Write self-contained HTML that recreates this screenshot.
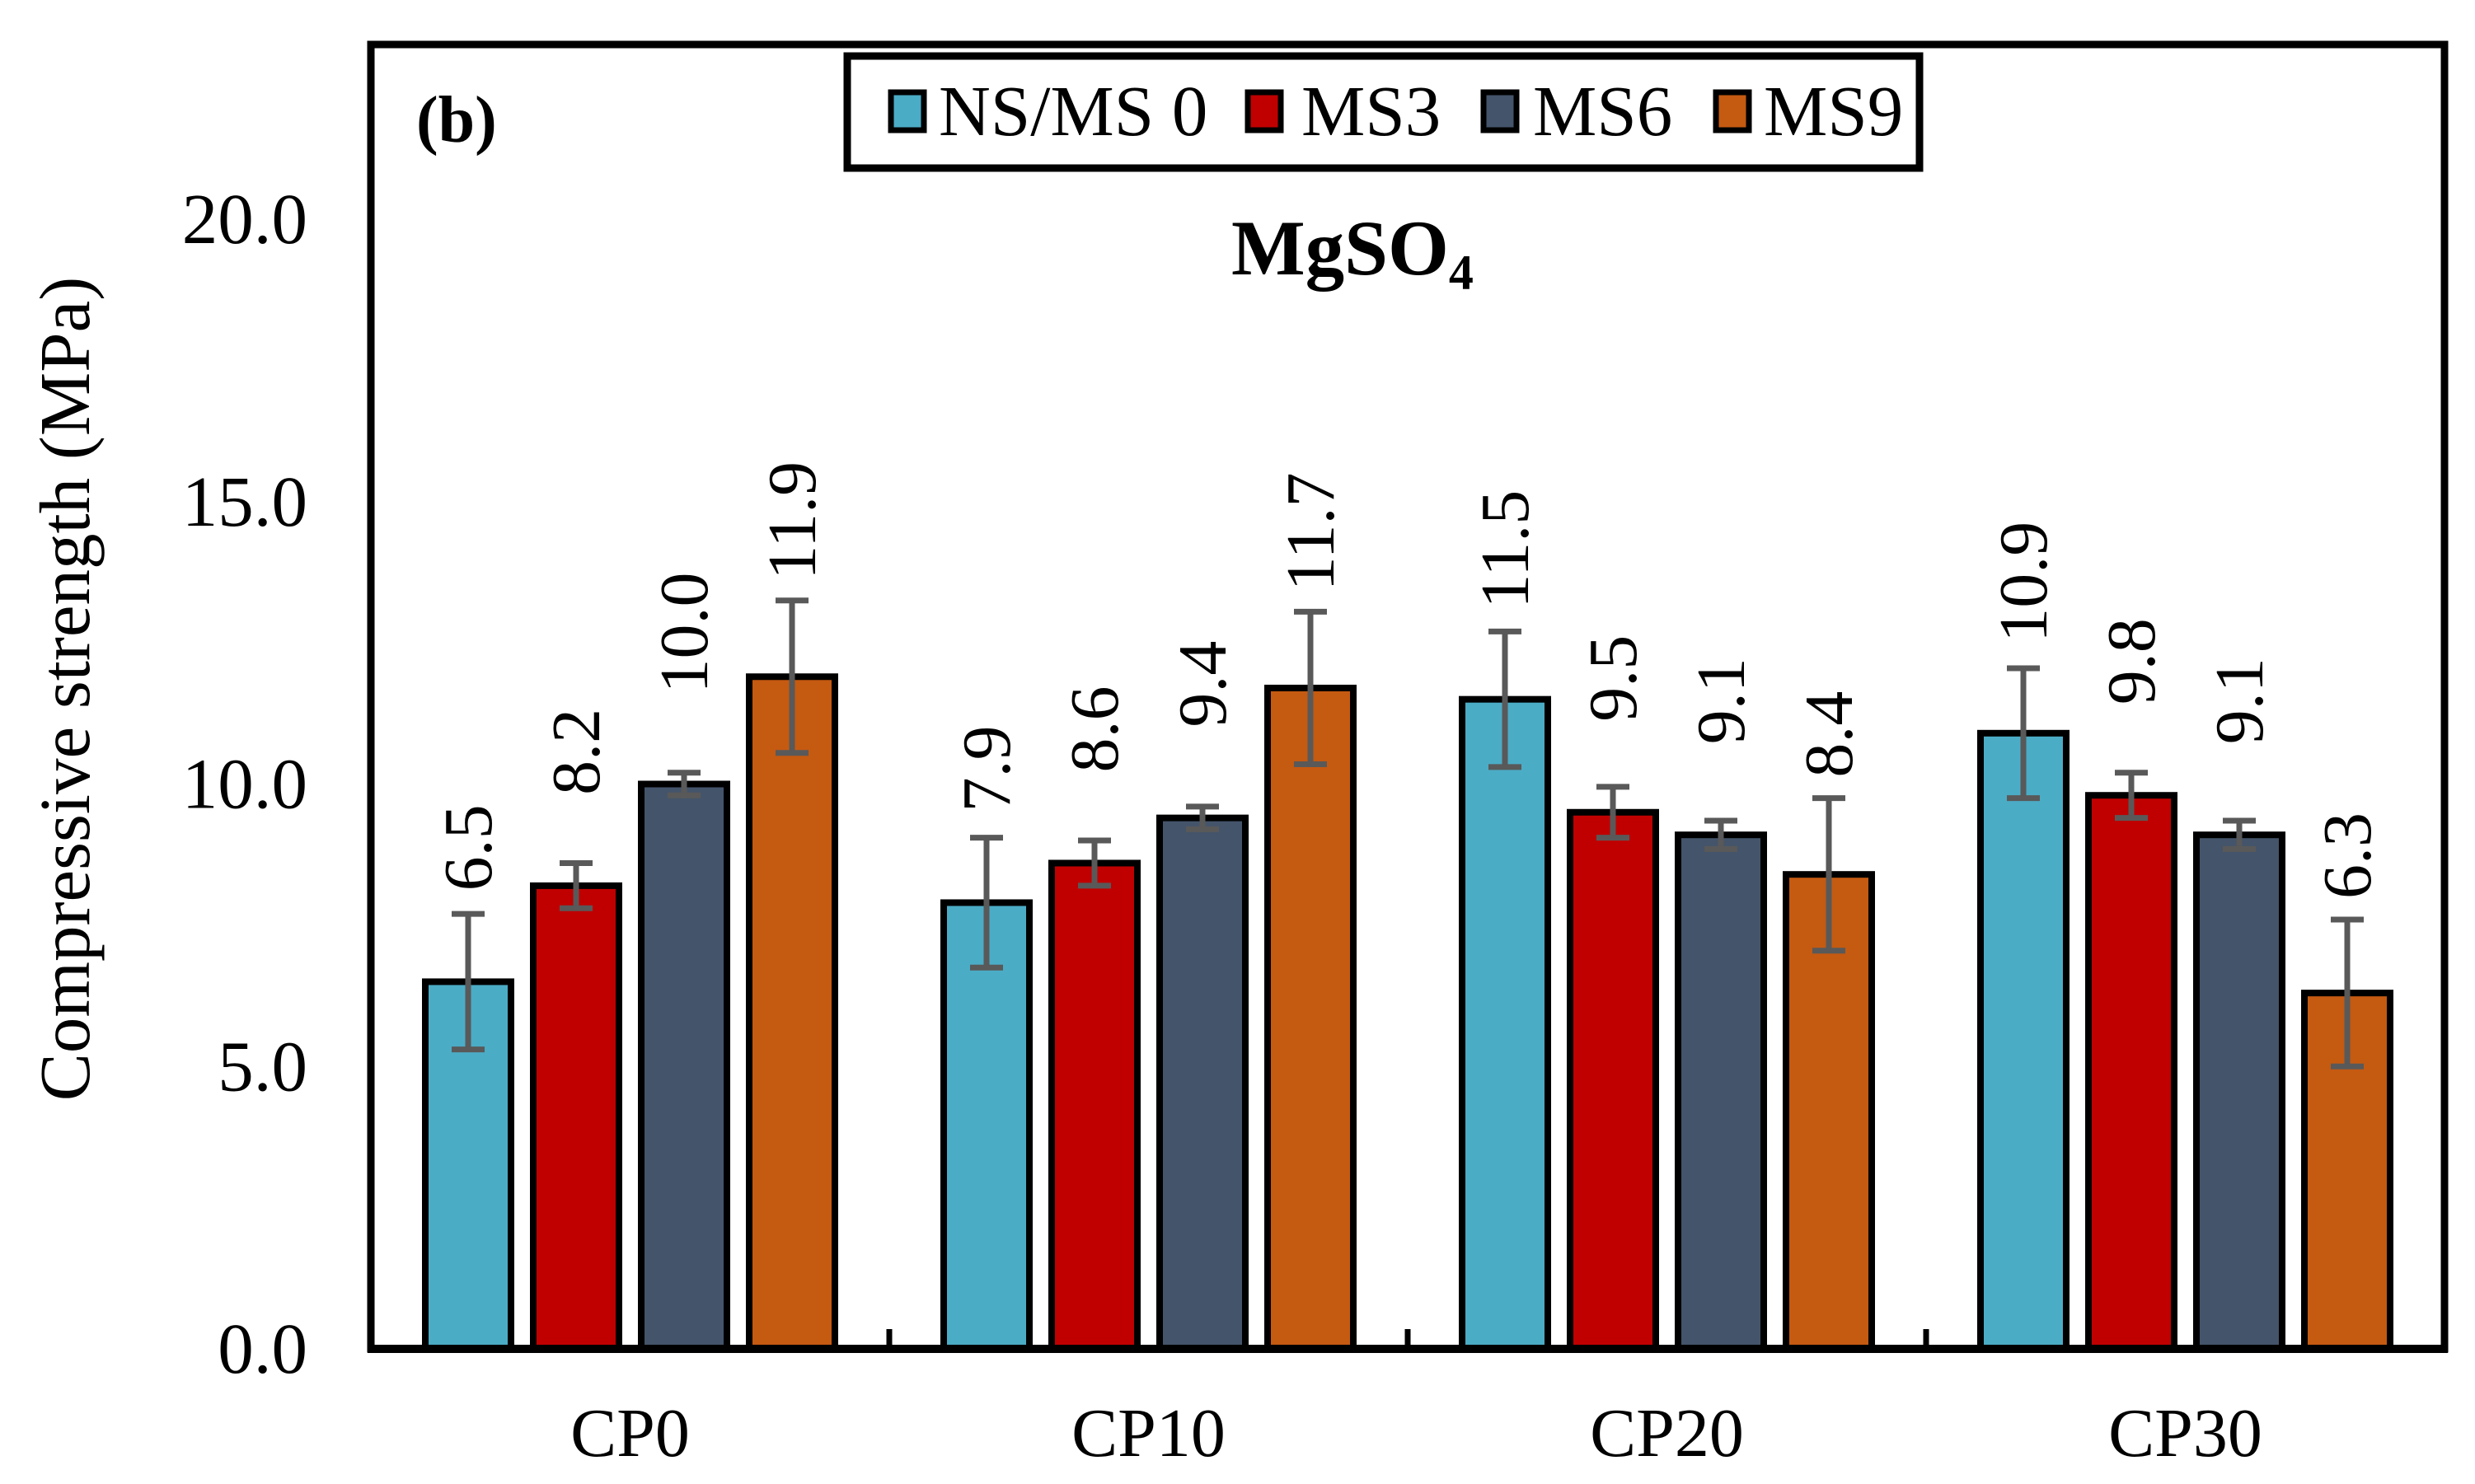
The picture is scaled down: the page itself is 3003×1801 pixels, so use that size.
<!DOCTYPE html>
<html><head><meta charset="utf-8"><style>
html,body{margin:0;padding:0;background:#fff;}
svg{display:block;font-family:"Liberation Serif",serif;}
</style></head><body>
<svg id="chart" width="3003" height="1801" viewBox="0 0 3003 1801">
<rect x="450" y="54" width="2516" height="1583" fill="#fff" stroke="#000" stroke-width="9"/>
<g id="bars"></g>
<g id="axes"></g>
<text x="505" y="172" font-size="80" font-weight="bold">(b)</text>
<text x="1494" y="333" font-size="95" font-weight="bold">MgSO<tspan font-size="60" dy="18">4</tspan></text>
<g>
<rect x="1028" y="68" width="1301" height="136" fill="#fff" stroke="#000" stroke-width="9"/>
<g><rect x="1081" y="112" width="40" height="46" fill="#4BACC6" stroke="#000" stroke-width="7"/><text x="1139" y="164" font-size="87">NS/MS 0</text></g>
<g><rect x="1514" y="112" width="40" height="46" fill="#C00000" stroke="#000" stroke-width="7"/><text x="1579" y="164" font-size="87">MS3</text></g>
<g><rect x="1800" y="112" width="40" height="46" fill="#44546A" stroke="#000" stroke-width="7"/><text x="1860" y="164" font-size="87">MS6</text></g>
<g><rect x="2082" y="112" width="40" height="46" fill="#C55A11" stroke="#000" stroke-width="7"/><text x="2140" y="164" font-size="87">MS9</text></g>
</g>
<text transform="translate(108,836) rotate(-90)" text-anchor="middle" font-size="87">Compressive strength (MPa)</text>
</svg>
<script>
const categories = ["CP0","CP10","CP20","CP30"];
const seriesNames = ["NS/MS 0","MS3","MS6","MS9"];
const seriesColors = ["#4BACC6","#C00000","#44546A","#C55A11"];
const ns0 = [6.5, 7.9, 11.5, 10.9];
const ms3 = [8.2, 8.6, 9.5, 9.8];
const ms6 = [10.0, 9.4, 9.1, 9.1];
const ms9 = [11.9, 11.7, 8.4, 6.3];
const ns0Err = [1.2, 1.15, 1.2, 1.15];
const ms3Err = [0.4, 0.4, 0.45, 0.4];
const ms6Err = [0.2, 0.2, 0.25, 0.25];
const ms9Err = [1.35, 1.35, 1.35, 1.3];
const yTicks = [0, 5, 10, 15, 20];
const yTickLabels = ["0.0","5.0","10.0","15.0","20.0"];

const NS = "http://www.w3.org/2000/svg";
const X0 = 450, X1 = 2966, Y0 = 1637, PXU = 68.55;
function y(v){ return Y0 - v*PXU; }
const catW = (X1-X0)/categories.length;
function catCenter(i){ return X0 + catW*(i+0.5); }
const pitch = 131, bw = 104;
function barX(ci, si){ return catCenter(ci) + (si-1.5)*pitch - bw/2; }

const series = [ns0, ms3, ms6, ms9];
const errs = [ns0Err, ms3Err, ms6Err, ms9Err];
const gBars = document.getElementById('bars');
const gAxes = document.getElementById('axes');
function mk(tag, attrs, parent){ const e=document.createElementNS(NS,tag); for(const k in attrs) e.setAttribute(k, attrs[k]); parent.appendChild(e); return e; }

series.forEach((vals, si) => {
  vals.forEach((v, ci) => {
    const x = barX(ci, si);
    const r = mk('rect', {x:x, y:y(v), width:bw, height:Y0-y(v), fill:seriesColors[si], stroke:'#000', 'stroke-width':8}, gBars);
    
    
    const cx = x + bw/2, e = errs[si][ci];
    const eg = mk('g', {stroke:'#595959', 'stroke-width':7}, gBars);
    
    
    mk('line', {x1:cx, x2:cx, y1:y(v+e), y2:y(v-e)}, eg);
    mk('line', {x1:cx-20, x2:cx+20, y1:y(v+e), y2:y(v+e)}, eg);
    mk('line', {x1:cx-20, x2:cx+20, y1:y(v-e), y2:y(v-e)}, eg);
    const ty = Math.min(y(v+e) - 25, y(v) - 110);
    const t = mk('text', {transform:'translate(' + (cx+28) + ',' + ty + ') rotate(-90)', 'font-size':84, fill:'#000'}, gBars);
    t.textContent = v.toFixed(1);
    
    
  });
});

const ax = mk('line', {x1:X0-4, x2:X1+4, y1:Y0, y2:Y0, stroke:'#000', 'stroke-width':10}, gAxes);


for (let i=1;i<categories.length;i++){
  const tk = mk('line', {x1:X0+catW*i, x2:X0+catW*i, y1:Y0, y2:Y0-24, stroke:'#000', 'stroke-width':7}, gAxes);
  
  
}
categories.forEach((c, i) => {
  const t = mk('text', {x:catCenter(i), y:1767, 'text-anchor':'middle', 'font-size':84}, gAxes);
  t.textContent = c;
  
  
});
yTicks.forEach((v, i) => {
  const t = mk('text', {x:373, y:y(v)+29, 'text-anchor':'end', 'font-size':87}, gAxes);
  t.textContent = yTickLabels[i];
  
  
});
</script>
</body></html>
